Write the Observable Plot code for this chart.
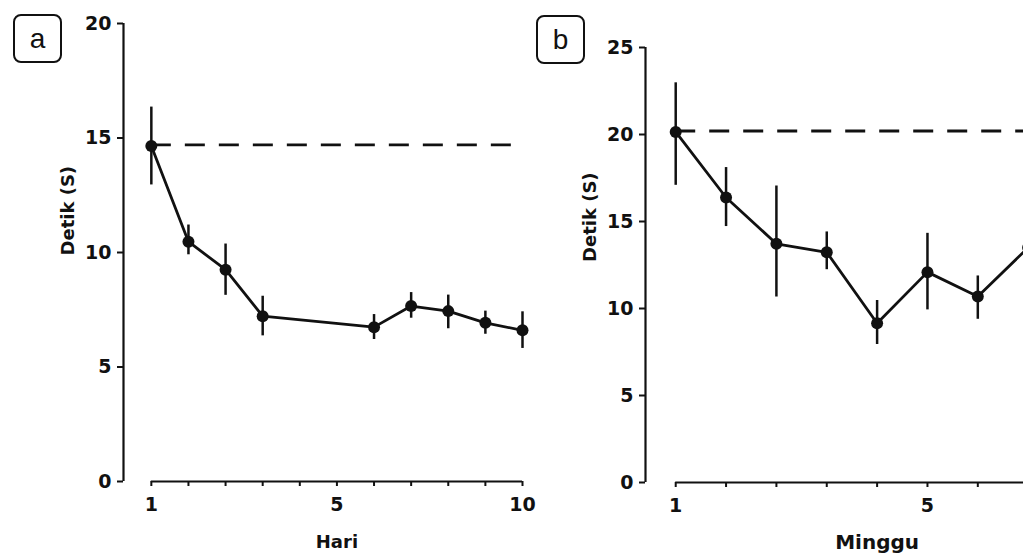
<!DOCTYPE html>
<html>
<head>
<meta charset="utf-8">
<script src="https://cdn.jsdelivr.net/npm/d3@7"></script>
<script src="https://cdn.jsdelivr.net/npm/@observablehq/plot@0.6"></script>
<style>
  html, body { margin: 0; padding: 0; background: #fff; overflow: hidden; }
  #wrap { position: relative; width: 1023px; height: 555px; overflow: hidden; background: #fff; }
  .panel { position: absolute; top: 0; }
  .panel svg { max-width: none !important; }
  .tag { position: absolute; width: 45px; height: 45px; border: 2px solid #111; border-radius: 8px;
         font-family: "Liberation Sans", Arial, sans-serif; font-size: 28px; color: #111;
         display: flex; align-items: center; justify-content: center; box-sizing: content-box; }
</style>
</head>
<body>
<div id="wrap"></div>
<script>
// ---------- Panel a (Hari) ----------
const aLabel = "a";
const aPos   = [0, 1, 2, 3, 6, 7, 8, 9, 10];
const aMean  = [14.65, 10.47, 9.25, 7.22, 6.74, 7.66, 7.44, 6.93, 6.60];
const aLow   = [12.95, 9.90, 8.13, 6.36, 6.20, 7.13, 6.67, 6.43, 5.81];
const aHigh  = [16.35, 11.20, 10.37, 8.09, 7.29, 8.25, 8.14, 7.44, 7.41];
const aRef = 14.7, aRefEnd = 9.7;
const aYTicks = [0, 5, 10, 15, 20];
const aXTicks = [0, 1, 2, 3, 4, 5, 6, 7, 8, 9, 10];
const aXLabelPos = [0, 5, 10];
const aXLabelText = ["1", "5", "10"];
const aXTitle = "Hari";
const aYTitle = "Detik (S)";

// ---------- Panel b (Minggu) ----------
const bLabel = "b";
const bPos   = [0, 1, 2, 3, 4, 5, 6, 7];
const bMean  = [20.15, 16.38, 13.72, 13.23, 9.15, 12.09, 10.69, 13.5];
const bLow   = [17.08, 14.71, 10.66, 12.23, 7.93, 9.92, 9.38, 12.4];
const bHigh  = [22.97, 18.10, 17.04, 14.40, 10.46, 14.32, 11.87, 14.6];
const bRef = 20.2, bRefEnd = 9;
const bYTicks = [0, 5, 10, 15, 20, 25];
const bXTicks = [0, 1, 2, 3, 4, 5, 6, 7, 8, 9];
const bXLabelPos = [0, 5];
const bXLabelText = ["1", "5"];
const bXTitle = "Minggu";
const bYTitle = "Detik (S)";

const INK = "#111";
const FONT = "'DejaVu Sans', 'Liberation Sans', sans-serif";

function panel(cfg) {
  const rows = cfg.pos.map((p, i) => ({pos: p, mean: cfg.mean[i], low: cfg.low[i], high: cfg.high[i]}));
  const labelOf = new Map(cfg.xLabelPos.map((p, i) => [p, cfg.xLabelText[i]]));
  const xMin = cfg.xDomain[0];
  const axisEnd = cfg.xTicks[cfg.xTicks.length - 1];
  const xMid = (cfg.xTicks[0] + cfg.axisMidEnd) / 2;
  return Plot.plot({
    width: cfg.width,
    height: 555,
    marginTop: cfg.marginTop,
    marginBottom: cfg.marginBottom,
    marginLeft: cfg.marginLeft,
    marginRight: cfg.marginRight,
    style: {fontFamily: FONT, fontSize: "19px", fontWeight: "bold", color: INK, background: "transparent", overflow: "visible", maxWidth: "none"},
    x: {domain: cfg.xDomain},
    y: {domain: cfg.yDomain},
    marks: [
      Plot.axisY({ticks: cfg.yTicks, tickSize: 6, tickPadding: 6, strokeWidth: 2, label: null}),
      Plot.axisX({ticks: cfg.xTicks, tickSize: 5, tickPadding: 11, strokeWidth: 2, label: null,
                  tickFormat: d => labelOf.get(d) ?? ""}),
      Plot.ruleX([xMin], {y1: cfg.yDomain[0], y2: cfg.yDomain[1], stroke: INK, strokeWidth: 2.2}),
      Plot.ruleY([0], {x1: cfg.xTicks[0], x2: axisEnd, stroke: INK, strokeWidth: 2.2}),
      Plot.ruleY([cfg.ref], {x1: cfg.xTicks[0], x2: cfg.refEnd, stroke: INK, strokeWidth: 2.8, strokeDasharray: "20,14"}),
      Plot.ruleX(rows, {x: "pos", y1: "low", y2: "high", stroke: INK, strokeWidth: 2.5}),
      Plot.line(rows, {x: "pos", y: "mean", stroke: INK, strokeWidth: 2.8}),
      Plot.dot(rows, {x: "pos", y: "mean", r: 6, fill: INK, stroke: null}),
      Plot.text([cfg.xTitle], {x: xMid, frameAnchor: "bottom", dy: cfg.xTitleDy, fontSize: cfg.xTitleSize, fontWeight: "bold", fill: INK}),
      Plot.text([cfg.yTitle], {frameAnchor: "left", dx: cfg.yTitleDx, dy: cfg.yTitleDy, rotate: -90, fontSize: 18, fontWeight: "bold", fill: INK})
    ]
  });
}

const wrap = document.getElementById("wrap");

const A = panel({
  pos: aPos, mean: aMean, low: aLow, high: aHigh, ref: aRef, refEnd: aRefEnd,
  yTicks: aYTicks, xTicks: aXTicks, xLabelPos: aXLabelPos, xLabelText: aXLabelText,
  xTitle: aXTitle, yTitle: aYTitle, xTitleSize: 18, axisMidEnd: 10,
  width: 540, marginTop: 23, marginBottom: 74, marginLeft: 123, marginRight: 18,
  xDomain: [-0.75, 10], yDomain: [0, 20], xTitleDy: 66, yTitleDx: -55, yTitleDy: 3
});
const divA = document.createElement("div");
divA.className = "panel"; divA.style.left = "0px"; divA.style.width = "540px";
divA.appendChild(A); wrap.appendChild(divA);

const B = panel({
  pos: bPos, mean: bMean, low: bLow, high: bHigh, ref: bRef, refEnd: bRefEnd,
  yTicks: bYTicks, xTicks: bXTicks, xLabelPos: bXLabelPos, xLabelText: bXLabelText,
  xTitle: bXTitle, yTitle: bYTitle, xTitleSize: 20, axisMidEnd: 8,
  width: 600, marginTop: 47, marginBottom: 73, marginLeft: 125, marginRight: 600 - 125 - 50.35 * 9.6,
  xDomain: [-0.6, 9], yDomain: [0, 25], xTitleDy: 66, yTitleDx: -55, yTitleDy: -3
});
const divB = document.createElement("div");
divB.className = "panel"; divB.style.left = "520px"; divB.style.width = "600px";
divB.appendChild(B); wrap.appendChild(divB);

function tag(text, left, top) {
  const t = document.createElement("div");
  t.className = "tag"; t.textContent = text;
  t.style.left = left + "px"; t.style.top = top + "px";
  wrap.appendChild(t);
}
tag(aLabel, 13, 14);
tag(bLabel, 536, 15);
</script>
</body>
</html>
